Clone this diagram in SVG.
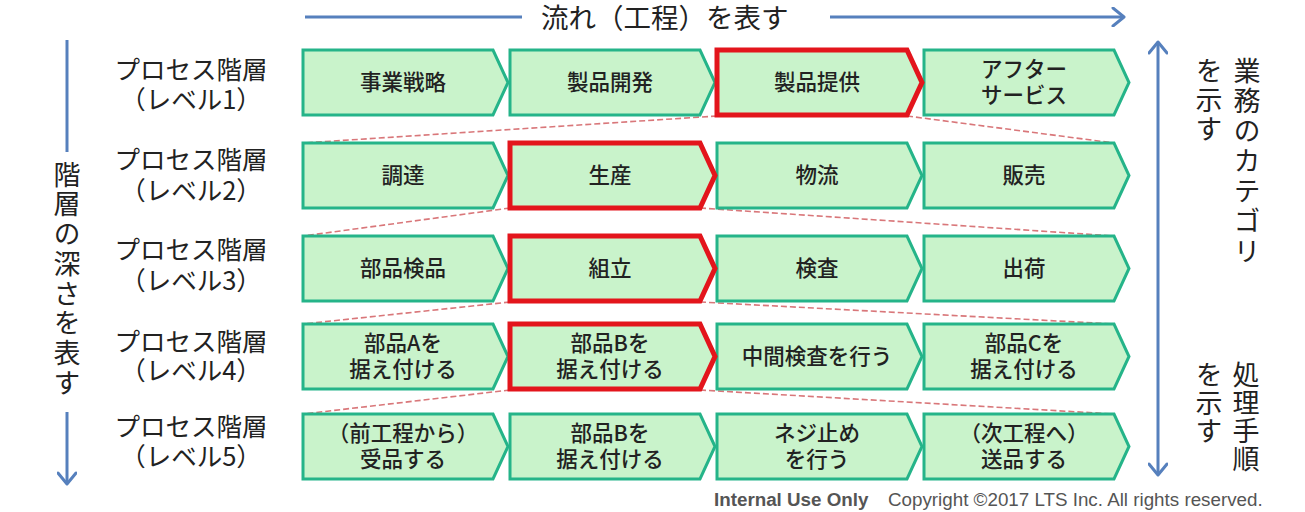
<svg xmlns="http://www.w3.org/2000/svg" xmlns:xlink="http://www.w3.org/1999/xlink" width="1305" height="512" viewBox="0 0 1305 512">
<style>
.box{fill:#c9f3cb;stroke:#25b489;stroke-width:3;stroke-linejoin:miter}
.hl{fill:#c9f3cb;stroke:#e3151c;stroke-width:5;stroke-linejoin:miter}
.t{font-family:"Noto Sans CJK JP","Noto Sans",sans-serif;font-size:21.5px;font-weight:500;fill:#222;text-anchor:middle}
.lbl{font-family:"Noto Sans CJK JP","Noto Sans",sans-serif;font-size:25.5px;fill:#222;text-anchor:middle}
.big{font-family:"Noto Sans CJK JP","Noto Sans",sans-serif;font-size:27px;fill:#222}
.v{writing-mode:vertical-rl;text-orientation:upright}
.ax{stroke:#5680bd;stroke-width:3;fill:none}
.dash{stroke:#d9777a;stroke-width:1.6;stroke-dasharray:6 3;fill:none}
.foot{font-family:"Liberation Sans",Arial,sans-serif;font-size:18.8px;fill:#555}
</style>
<defs>
<polygon id="chev" points="0,0 190,0 205,32.5 190,65 0,65"/>
<marker id="ah" viewBox="-13 -10 15 20" refX="0" refY="0" markerWidth="15" markerHeight="20" markerUnits="userSpaceOnUse" orient="auto-start-reverse">
<path d="M-11,-9 L0,0 L-11,9" fill="none" stroke="#5680bd" stroke-width="3" stroke-linecap="round" stroke-linejoin="round"/>
</marker>
</defs>
<rect width="1305" height="512" fill="#fff"/>

<g id="axes">
<line class="ax" x1="305" y1="17" x2="522" y2="17"/>
<text class="big" x="541" y="27.5" style="font-size:27.5px">流れ（工程）を表す</text>
<line class="ax" x1="830" y1="17" x2="1124" y2="17" marker-end="url(#ah)"/>
<line class="ax" x1="67" y1="40" x2="67" y2="152"/>
<text class="big v" x="67" y="161" style="letter-spacing:2.7px">階層の深さを表す</text>
<line class="ax" x1="67" y1="412" x2="67" y2="484" marker-end="url(#ah)"/>
<line class="ax" x1="1158" y1="42" x2="1158" y2="475" marker-start="url(#ah)" marker-end="url(#ah)"/>
<text class="big v" x="1247" y="57" style="letter-spacing:3px">業務のカテゴリ</text>
<text class="big v" x="1209" y="57" style="letter-spacing:2px">を示す</text>
<text class="big v" x="1246" y="361" style="letter-spacing:1px">処理手順</text>
<text class="big v" x="1209" y="361" style="letter-spacing:1px">を示す</text>
</g>

<g id="levels">
<text class="lbl"><tspan x="191" y="79">プロセス階層</tspan><tspan x="191" y="109">（レベル1）</tspan></text>
<text class="lbl"><tspan x="191" y="169">プロセス階層</tspan><tspan x="191" y="200">（レベル2）</tspan></text>
<text class="lbl"><tspan x="191" y="259">プロセス階層</tspan><tspan x="191" y="290">（レベル3）</tspan></text>
<text class="lbl"><tspan x="191" y="351">プロセス階層</tspan><tspan x="191" y="380">（レベル4）</tspan></text>
<text class="lbl"><tspan x="191" y="436">プロセス階層</tspan><tspan x="191" y="466">（レベル5）</tspan></text>
</g>

<g id="connectors">
<line class="dash" x1="717" y1="116" x2="303" y2="143"/>
<line class="dash" x1="907" y1="116" x2="1114" y2="143"/>
<line class="dash" x1="510" y1="208" x2="303" y2="236"/>
<line class="dash" x1="700" y1="208" x2="1114" y2="236"/>
<line class="dash" x1="510" y1="302" x2="303" y2="324"/>
<line class="dash" x1="700" y1="302" x2="1114" y2="324"/>
<line class="dash" x1="510" y1="390" x2="303" y2="414"/>
<line class="dash" x1="700" y1="390" x2="1114" y2="414"/>
</g>

<g id="r1c1"><use xlink:href="#chev" class="box" x="303" y="50"/><text class="t" x="403" y="90">事業戦略</text></g>
<g id="r1c2"><use xlink:href="#chev" class="box" x="510" y="50"/><text class="t" x="610" y="90">製品開発</text></g>
<g id="r1c4"><use xlink:href="#chev" class="box" x="924" y="50"/><text class="t"><tspan x="1024" y="76.5">アフター</tspan><tspan x="1024" y="102.5">サービス</tspan></text></g>
<g id="r1c3"><use xlink:href="#chev" class="hl" x="717" y="50"/><text class="t" x="817" y="90">製品提供</text></g>

<g id="r2c1"><use xlink:href="#chev" class="box" x="303" y="143"/><text class="t" x="403" y="183">調達</text></g>
<g id="r2c3"><use xlink:href="#chev" class="box" x="717" y="143"/><text class="t" x="817" y="183">物流</text></g>
<g id="r2c4"><use xlink:href="#chev" class="box" x="924" y="143"/><text class="t" x="1024" y="183">販売</text></g>
<g id="r2c2"><use xlink:href="#chev" class="hl" x="510" y="143"/><text class="t" x="610" y="183">生産</text></g>

<g id="r3c1"><use xlink:href="#chev" class="box" x="303" y="236"/><text class="t" x="403" y="276">部品検品</text></g>
<g id="r3c3"><use xlink:href="#chev" class="box" x="717" y="236"/><text class="t" x="817" y="276">検査</text></g>
<g id="r3c4"><use xlink:href="#chev" class="box" x="924" y="236"/><text class="t" x="1024" y="276">出荷</text></g>
<g id="r3c2"><use xlink:href="#chev" class="hl" x="510" y="236"/><text class="t" x="610" y="276">組立</text></g>

<g id="r4c1"><use xlink:href="#chev" class="box" x="303" y="324"/><text class="t"><tspan x="403" y="350.5">部品Aを</tspan><tspan x="403" y="376.5">据え付ける</tspan></text></g>
<g id="r4c3"><use xlink:href="#chev" class="box" x="717" y="324"/><text class="t" x="817" y="364">中間検査を行う</text></g>
<g id="r4c4"><use xlink:href="#chev" class="box" x="924" y="324"/><text class="t"><tspan x="1024" y="350.5">部品Cを</tspan><tspan x="1024" y="376.5">据え付ける</tspan></text></g>
<g id="r4c2"><use xlink:href="#chev" class="hl" x="510" y="324"/><text class="t"><tspan x="610" y="350.5">部品Bを</tspan><tspan x="610" y="376.5">据え付ける</tspan></text></g>

<g id="r5c1"><use xlink:href="#chev" class="box" x="303" y="414"/><text class="t"><tspan x="403" y="440.5">（前工程から）</tspan><tspan x="403" y="466.5">受品する</tspan></text></g>
<g id="r5c2"><use xlink:href="#chev" class="box" x="510" y="414"/><text class="t"><tspan x="610" y="440.5">部品Bを</tspan><tspan x="610" y="466.5">据え付ける</tspan></text></g>
<g id="r5c3"><use xlink:href="#chev" class="box" x="717" y="414"/><text class="t"><tspan x="817" y="440.5">ネジ止め</tspan><tspan x="817" y="466.5">を行う</tspan></text></g>
<g id="r5c4"><use xlink:href="#chev" class="box" x="924" y="414"/><text class="t"><tspan x="1024" y="440.5">（次工程へ）</tspan><tspan x="1024" y="466.5">送品する</tspan></text></g>

<g id="footer">
<text class="foot" x="714" y="506" style="font-weight:bold">Internal Use Only</text>
<text class="foot" x="888" y="506">Copyright ©2017 LTS Inc. All rights reserved.</text>
</g>
</svg>
